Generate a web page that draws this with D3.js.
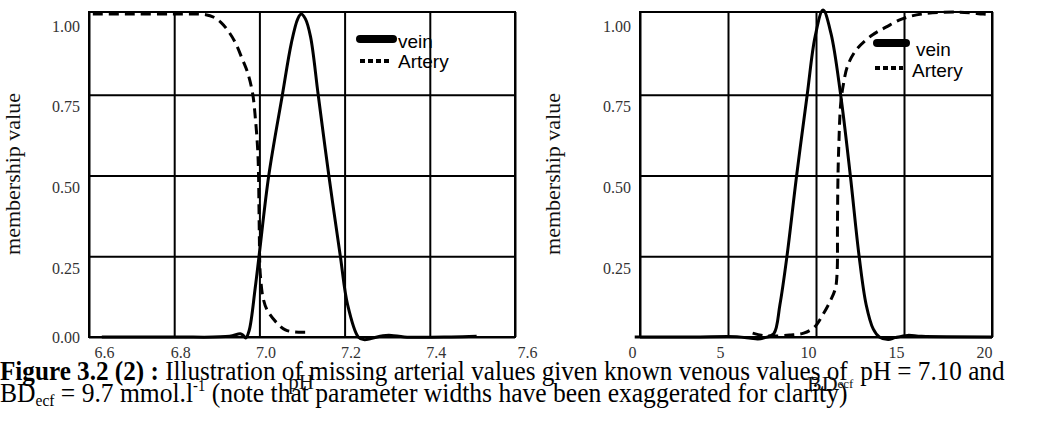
<!DOCTYPE html>
<html><head><meta charset="utf-8">
<script src="https://cdn.jsdelivr.net/npm/d3@7"></script>
<style>
html,body{margin:0;padding:0;background:#fff;}
svg{display:block;}
text{white-space:pre;}
</style></head>
<body>
<svg id="chart" width="1044" height="422"></svg>
<script>
// ---------- DATA ----------
const phTicks = [6.6, 6.8, 7.0, 7.2, 7.4, 7.6];
const bdTicks = [0, 5, 10, 15, 20];
const yTicks = [0, 0.25, 0.5, 0.75, 1.0];
const seriesNames = ["vein", "Artery"];

// pH panel
const phVeinX = [6.63, 6.80, 6.93, 6.955, 6.962, 6.968, 6.976, 6.99, 7.0, 7.022, 7.054, 7.075, 7.09, 7.098, 7.108, 7.12, 7.138, 7.163, 7.19, 7.207, 7.232, 7.245, 7.262, 7.29, 7.31, 7.34, 7.45, 7.51];
const phVeinY = [0.0, 0.0, 0.002, 0.01, 0.005, -0.003, 0.02, 0.15, 0.26, 0.5, 0.75, 0.91, 0.985, 1.0, 0.985, 0.93, 0.75, 0.5, 0.25, 0.1, 0.0, -0.008, -0.005, 0.004, 0.005, 0.0, 0.0, 0.002];
const phArtX = [6.609, 6.7, 6.8, 6.874, 6.893, 6.909, 6.928, 6.944, 6.96, 6.972, 6.984, 6.991, 6.996, 6.998, 6.999, 7.0, 7.001, 7.003, 7.008, 7.018, 7.042, 7.061, 7.08, 7.096, 7.12];
const phArtY = [1.0, 1.0, 1.0, 0.998, 0.99, 0.975, 0.945, 0.91, 0.86, 0.82, 0.755, 0.67, 0.58, 0.5, 0.4, 0.3, 0.22, 0.18, 0.125, 0.084, 0.042, 0.022, 0.016, 0.015, 0.015];

// BD panel
const bdVeinX = [-0.3, 3, 5.5, 6.3, 6.7, 7.1, 7.6, 7.95, 8.35, 8.9, 9.5, 9.95, 10.4, 10.85, 11.4, 11.95, 12.45, 12.85, 13.25, 13.6, 14.1, 14.5, 15.2, 16, 20];
const bdVeinY = [0.0, 0.0, 0.001, -0.004, -0.006, -0.002, 0.01, 0.1, 0.25, 0.5, 0.75, 0.93, 1.012, 0.94, 0.75, 0.5, 0.25, 0.1, 0.025, 0.0, -0.008, -0.002, 0.005, 0.002, 0.0];
const bdArtX = [6.4, 7.0, 7.6, 8.5, 9.3, 9.9, 10.4, 10.8, 11.1, 11.2, 11.22, 11.25, 11.3, 11.4, 11.55, 11.8, 12.3, 13.2, 14.0, 14.9, 16.0, 18.0, 19.5, 20.0];
const bdArtY = [0.012, 0.004, 0.003, 0.006, 0.012, 0.03, 0.07, 0.11, 0.15, 0.2, 0.35, 0.5, 0.6, 0.72, 0.78, 0.84, 0.89, 0.935, 0.96, 0.985, 1.0, 1.006, 1.0, 0.998];

// ---------- DRAW ----------
const svg = d3.select("#chart");
svg.append("rect").attr("width", 1044).attr("height", 422).attr("fill", "#fff");

const SERIF = "'Liberation Serif','Times New Roman',Times,serif";
const SANS = "'Liberation Sans',Arial,Helvetica,sans-serif";
const TOP = 12;

function panel(opt) {
  const g = svg.append("g");
  const xs = d3.scaleLinear().domain(opt.xDomain).range(opt.xRange);
  const ys = d3.scaleLinear().domain([0, 1]).range([337, 14]);
  const plotH = ys(0) - TOP;
  const plotW = opt.xRange[1] - opt.xRange[0];

  const gx = g.append("g").attr("transform", `translate(0,${ys(0)})`)
    .call(d3.axisBottom(xs).tickValues(opt.xTicks).tickSize(-plotH).tickPadding(10).tickFormat(opt.xFmt));
  gx.select(".domain").remove();
  gx.selectAll(".tick line").attr("stroke", "#000").attr("stroke-width", 2);
  gx.selectAll(".tick text").attr("font-family", SERIF).attr("font-size", 16).attr("fill", "#333")
    .attr("dx", (d, i) => opt.xLabelDx(d, i, opt.xTicks.length));

  const gy = g.append("g").attr("transform", `translate(${opt.xRange[0]},0)`)
    .call(d3.axisLeft(ys).tickValues(yTicks).tickSize(-plotW).tickPadding(9).tickFormat(d3.format(".2f")));
  gy.select(".domain").remove();
  gy.selectAll(".tick line").attr("stroke", "#000").attr("stroke-width", 2);
  gy.selectAll(".tick text").attr("font-family", SERIF).attr("font-size", 16).attr("fill", "#333")
    .attr("y", d => d === 0 ? 0 : 12)
    .style("display", d => (d === 0 && !opt.showZero) ? "none" : null);
  gy.selectAll(".tick").filter(d => d === 1).select("line").style("display", "none");

  g.append("rect").attr("x", opt.xRange[0]).attr("y", TOP).attr("width", plotW).attr("height", plotH)
    .attr("fill", "none").attr("stroke", "#000").attr("stroke-width", 2);

  const line = d3.line().x(d => xs(d[0])).y(d => ys(d[1])).curve(d3.curveCatmullRom.alpha(0.5));
  const vein = d3.zip(opt.veinX, opt.veinY);
  const art = d3.zip(opt.artX, opt.artY);
  g.append("path").attr("d", line(art)).attr("fill", "none").attr("stroke", "#000")
    .attr("stroke-width", 3).attr("stroke-dasharray", "10,6");
  g.append("path").attr("d", line(vein)).attr("fill", "none").attr("stroke", "#000")
    .attr("stroke-width", 3).attr("stroke-linejoin", "round");

  svg.append("text").attr("transform", `translate(${opt.yTitleX},174) rotate(-90)`)
    .attr("text-anchor", "middle").attr("font-family", SERIF).attr("font-size", 22).attr("fill", "#111")
    .text("membership value");

  const L = opt.legend;
  const lg = svg.append("g");
  lg.append("line").attr("x1", L.sx1).attr("x2", L.sx2).attr("y1", L.sy).attr("y2", L.sy)
    .attr("stroke", "#000").attr("stroke-width", 8).attr("stroke-linecap", "round");
  lg.append("text").attr("x", L.vx).attr("y", L.vy).attr("font-family", SANS).attr("font-size", 19).text(seriesNames[0]);
  lg.append("line").attr("x1", L.dx1).attr("x2", L.dx2).attr("y1", L.dy).attr("y2", L.dy)
    .attr("stroke", "#000").attr("stroke-width", 4).attr("stroke-dasharray", "5,3");
  lg.append("text").attr("x", L.ax).attr("y", L.ay).attr("font-family", SANS).attr("font-size", 19).text(seriesNames[1]);
  return g;
}

panel({
  xDomain: [6.6, 7.6], xRange: [89, 515], xTicks: phTicks, xFmt: d3.format(".1f"),
  xLabelDx: (d, i, n) => 6 + (i === 0 ? 9 : 0) + (i === n - 1 ? 6 : 0),
  showZero: true, yTitleX: 20,
  veinX: phVeinX, veinY: phVeinY, artX: phArtX, artY: phArtY,
  legend: {sx1: 360, sx2: 393, sy: 39, vx: 398, vy: 48, dx1: 360, dx2: 390, dy: 61, ax: 398, ay: 68}
});
panel({
  xDomain: [0, 20], xRange: [640, 992], xTicks: bdTicks, xFmt: d3.format("d"),
  xLabelDx: () => -8,
  showZero: false, yTitleX: 560,
  veinX: bdVeinX, veinY: bdVeinY, artX: bdArtX, artY: bdArtY,
  legend: {sx1: 877, sx2: 906, sy: 43, vx: 916, vy: 56, dx1: 875, dx2: 903, dy: 68, ax: 912, ay: 77}
});

svg.append("text").attr("x", 301).attr("y", 389).attr("text-anchor", "middle")
  .attr("font-family", SERIF).attr("font-size", 21).attr("fill", "#111").text("pH");
const bd = svg.append("text").attr("x", 807).attr("y", 391)
  .attr("font-family", SERIF).attr("font-size", 22).attr("fill", "#111");
bd.append("tspan").text("BD");
bd.append("tspan").attr("font-size", 13).attr("dy", -3).text("ecf");

function fitText(sel, target) {
  const w = sel.node().getBBox().width;
  const x = +sel.attr("data-x"), y = +sel.attr("data-y");
  sel.attr("transform", `translate(${x},${y}) scale(${target / w},1)`);
}
const c1 = svg.append("text").attr("data-x", 0).attr("data-y", 380)
  .attr("font-family", SERIF).attr("font-size", 28).attr("fill", "#000");
c1.append("tspan").attr("font-weight", "bold").text("Figure 3.2 (2) :");
c1.append("tspan").text(" Illustration of missing arterial values given known venous values of  pH = 7.10 and");
fitText(c1, 1005);

const c2 = svg.append("text").attr("data-x", 0).attr("data-y", 402)
  .attr("font-family", SERIF).attr("font-size", 28).attr("fill", "#000");
c2.append("tspan").text("BD");
c2.append("tspan").attr("font-size", 17).attr("dy", 4).text("ecf");
c2.append("tspan").attr("dy", -4).text(" = 9.7 mmol.l");
c2.append("tspan").attr("font-size", 16).attr("dy", -11).text("-1");
c2.append("tspan").attr("dy", 11).text(" (note that parameter widths have been exaggerated for clarity)");
fitText(c2, 848);
</script>
</body></html>
